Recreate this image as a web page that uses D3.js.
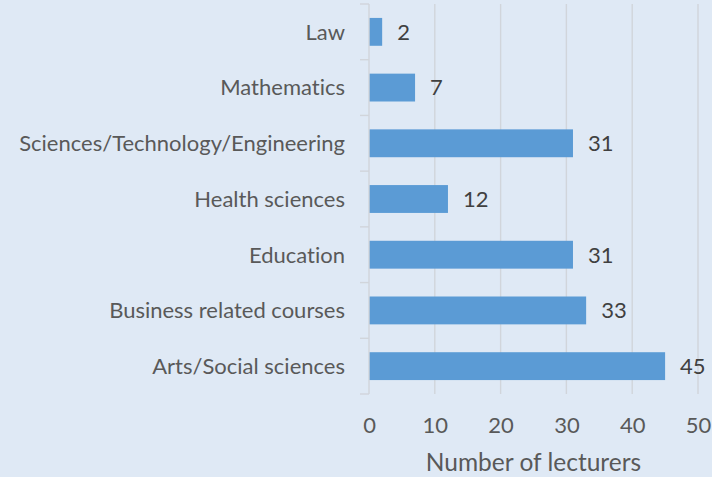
<!DOCTYPE html>
<html>
<head>
<meta charset="utf-8">
<script src="https://cdn.jsdelivr.net/npm/d3@7"></script>
<style>
  html, body { margin: 0; padding: 0; background: #dfe9f5; }
  svg { display: block; }
  text { font-family: Lato, "Open Sans", sans-serif; font-variant-ligatures: none; font-feature-settings: "liga" 0, "dlig" 0; }
</style>
</head>
<body>
<svg id="chart" width="712" height="477"></svg>
<script>
// categories top to bottom
let categories = ["Law", "Mathematics", "Sciences/Technology/Engineering", "Health sciences",
    "Education", "Business related courses", "Arts/Social sciences"];
let lecturers = [2, 7, 31, 12, 31, 33, 45];
let xTicks = [0, 10, 20, 30, 40, 50];

let svg = d3.select("#chart");

let margin = { top: 4, left: 369, right: 14, bottom: 83 };
let width = 712 - margin.left - margin.right,
    height = 477 - margin.top - margin.bottom;

let x = d3.scaleLinear()
    .domain([0, 50])
    .range([0, 329]);

let y = d3.scaleBand()
    .domain(categories)
    .range([0, height])
    .paddingInner(0.5)
    .paddingOuter(0.25);

let g = svg.append("g")
    .attr("transform", "translate(" + margin.left + "," + margin.top + ")");

// vertical gridlines
g.append("g")
    .selectAll("line")
    .data(xTicks.slice(1))
    .enter()
    .append("line")
    .attr("x1", d => x(d))
    .attr("x2", d => x(d))
    .attr("y1", 0)
    .attr("y2", height)
    .attr("stroke", "#d1d5db")
    .attr("stroke-width", 1.4);

// bars
g.append("g")
    .selectAll("rect")
    .data(categories)
    .enter()
    .append("rect")
    .attr("x", 0)
    .attr("y", d => y(d))
    .attr("width", (d, i) => x(lecturers[i]))
    .attr("height", y.bandwidth())
    .attr("fill", "#5b9bd5");

// value labels
g.append("g")
    .selectAll("text")
    .data(categories)
    .enter()
    .append("text")
    .attr("x", (d, i) => x(lecturers[i]) + 15)
    .attr("y", d => y(d) + y.bandwidth() / 2)
    .attr("dy", "0.36em")
    .attr("font-size", 22)
    .attr("fill", "#404040")
    .text((d, i) => lecturers[i]);

// y axis: line plus ticks between categories
let step = y.step();
g.append("line")
    .attr("x1", 0).attr("x2", 0)
    .attr("y1", 0).attr("y2", height)
    .attr("stroke", "#d1d5db")
    .attr("stroke-width", 1.4);
g.append("g")
    .selectAll("line")
    .data(d3.range(categories.length + 1))
    .enter()
    .append("line")
    .attr("x1", -9).attr("x2", 0)
    .attr("y1", i => i * step)
    .attr("y2", i => i * step)
    .attr("stroke", "#d1d5db")
    .attr("stroke-width", 1.4);

// category labels
g.append("g")
    .selectAll("text")
    .data(categories)
    .enter()
    .append("text")
    .attr("x", -24)
    .attr("y", d => y(d) + y.bandwidth() / 2)
    .attr("dy", "0.36em")
    .attr("text-anchor", "end")
    .attr("font-size", 22)
    .attr("fill", "#595959")
    .text(d => d);

// x tick labels
let xAxis = d3.axisBottom(x)
    .tickValues(xTicks)
    .tickSize(0)
    .tickPadding(23);
let xg = g.append("g")
    .attr("transform", "translate(0," + height + ")")
    .call(xAxis);
xg.select(".domain").remove();
xg.selectAll("text")
    .attr("font-size", 22)
    .attr("font-family", "Lato, sans-serif")
    .attr("fill", "#595959");

// axis title
g.append("text")
    .attr("x", x(25))
    .attr("y", height + 77)
    .attr("text-anchor", "middle")
    .attr("font-size", 24.5)
    .attr("fill", "#595959")
    .text("Number of lecturers");
</script>
</body>
</html>
